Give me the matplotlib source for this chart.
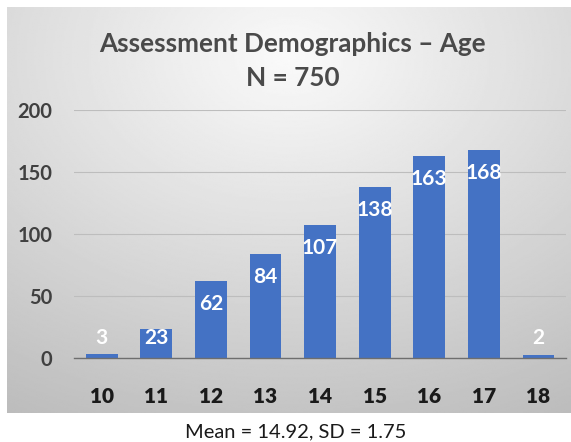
import numpy as np
import matplotlib
matplotlib.use("Agg")
import matplotlib.pyplot as plt

plt.rcParams["font.family"] = ["Lato", "DejaVu Sans"]

# age distribution of the assessment sample
ages = ["10", "11", "12", "13", "14", "15", "16", "17", "18"]
counts = [3, 23, 62, 84, 107, 138, 163, 168, 2]
yticks = [0, 50, 100, 150, 200]

title = "Assessment Demographics \u2013 Age"
subtitle = "N = 750"
note = "Mean = 14.92, SD = 1.75"

fig = plt.figure(figsize=(5.71, 4.42), dpi=100)
fig.patch.set_facecolor("white")

# gray radial gradient panel behind the chart
bg = fig.add_axes([7 / 571, 29 / 442, 564 / 571, 406 / 442])
gx, gy = np.meshgrid(np.linspace(0, 1, 300), np.linspace(0, 1, 300))
dist = np.sqrt((gx - 0.5) ** 2 + (gy - 0.12) ** 2)
shade = np.clip(0.98 - 0.24 * dist, 0, 1)
bg.imshow(shade, cmap="gray", vmin=0, vmax=1, aspect="auto",
          extent=[0, 1, 1, 0], interpolation="bilinear")
bg.set_axis_off()

ax = fig.add_axes([74.4 / 571, 0.191, 491.4 / 571, 0.560])
ax.set_facecolor("none")
x = np.arange(len(ages))
ax.bar(x, counts, width=0.58, color="#4472C4", zorder=3)

for xi, v in zip(x, counts):
    ax.text(xi, max(v - 18.6, 15.8), str(v), ha="center", va="center",
            color="white", fontsize=15, fontweight="bold", zorder=4)

ax.set_xlim(-0.5, len(ages) - 0.5)
ax.set_ylim(0, 200)
ax.set_xticks(x)
ax.set_xticklabels(ages, fontsize=15, fontweight="heavy", color="#1a1a1a")
ax.set_yticks(yticks)
ax.set_yticklabels([str(t) for t in yticks], fontsize=14.5, fontweight="bold",
                   color="#404040")
ax.tick_params(axis="x", length=0, pad=21)
ax.tick_params(axis="y", length=0, pad=16)
ax.grid(axis="y", color="#bdbdbd", linewidth=0.8, zorder=0)
for s in ["top", "right", "left"]:
    ax.spines[s].set_visible(False)
ax.spines["bottom"].set_color("#6e6e6e")
ax.spines["bottom"].set_linewidth(1.0)
ax.spines["bottom"].set_zorder(5)

fig.text(0.512, 0.90, title, ha="center", va="center", fontsize=18.8,
         fontweight="bold", color="#4a4a4a")
fig.text(0.512, 0.824, subtitle, ha="center", va="center", fontsize=18.8,
         fontweight="bold", color="#4a4a4a")
fig.text(0.517, 0.023, note, ha="center", va="center", fontsize=14.5,
         color="#1a1a1a")

fig.savefig("out.png", dpi=100)
